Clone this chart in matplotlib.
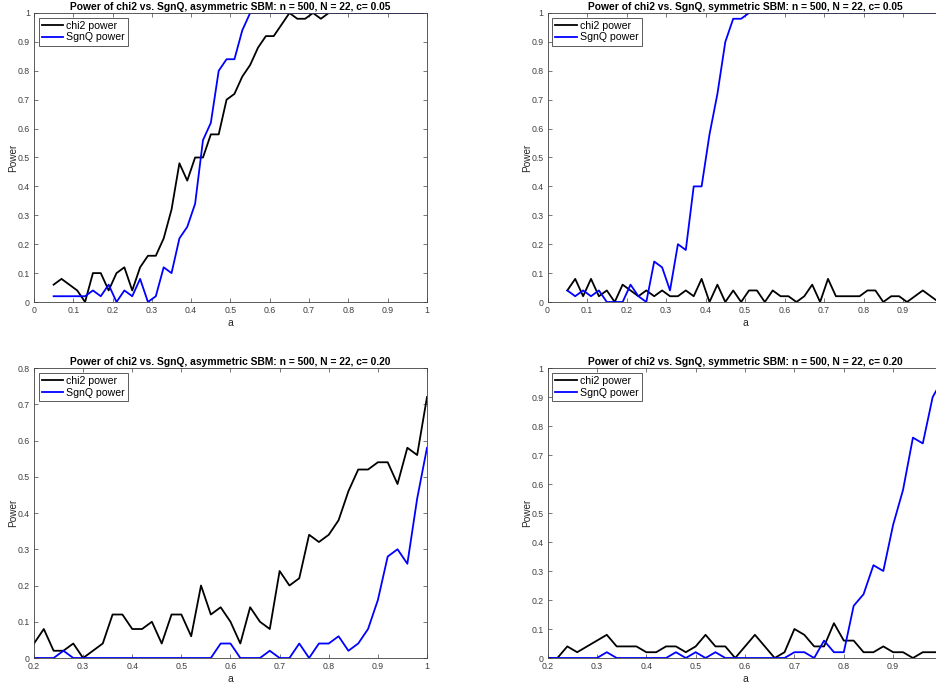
import numpy as np
import matplotlib
matplotlib.use("Agg")
import matplotlib.pyplot as plt

plt.rcParams['font.family'] = ['Liberation Sans', 'DejaVu Sans']

# x grids of the simulations
a_c005 = np.round(np.arange(0.05, 0.991, 0.02), 2)
a_c020 = np.round(np.arange(0.20, 1.001, 0.02), 2)

# asymmetric SBM, c = 0.05
chi2_asym_005 = [0.06, 0.08, 0.06, 0.04, 0.00, 0.10, 0.10, 0.04, 0.10, 0.12,
                 0.04, 0.12, 0.16, 0.16, 0.22, 0.32, 0.48, 0.42, 0.50, 0.50,
                 0.58, 0.58, 0.70, 0.72, 0.78, 0.82, 0.88, 0.92, 0.92, 0.96,
                 1.00, 0.98, 0.98, 1.00, 0.98, 1.00, 1.00, 1.00, 1.00, 1.00,
                 1.00, 1.00, 1.00, 1.00, 1.00, 1.00, 1.00, 1.00]
sgnq_asym_005 = [0.02, 0.02, 0.02, 0.02, 0.02, 0.04, 0.02, 0.06, 0.00, 0.04,
                 0.02, 0.08, 0.00, 0.02, 0.12, 0.10, 0.22, 0.26, 0.34, 0.56,
                 0.62, 0.80, 0.84, 0.84, 0.94, 1.00, 1.00, 1.00, 1.00, 1.00,
                 1.00, 1.00, 1.00, 1.00, 1.00, 1.00, 1.00, 1.00, 1.00, 1.00,
                 1.00, 1.00, 1.00, 1.00, 1.00, 1.00, 1.00, 1.00]

# symmetric SBM, c = 0.05
chi2_sym_005 = [0.04, 0.08, 0.02, 0.08, 0.02, 0.04, 0.00, 0.06, 0.04, 0.02,
                0.04, 0.02, 0.04, 0.02, 0.02, 0.04, 0.02, 0.08, 0.00, 0.06,
                0.00, 0.04, 0.00, 0.04, 0.04, 0.00, 0.04, 0.02, 0.02, 0.00,
                0.02, 0.06, 0.00, 0.08, 0.02, 0.02, 0.02, 0.02, 0.04, 0.04,
                0.00, 0.02, 0.02, 0.00, 0.02, 0.04, 0.02, 0.00]
sgnq_sym_005 = [0.04, 0.02, 0.04, 0.02, 0.04, 0.00, 0.00, 0.00, 0.06, 0.02,
                0.00, 0.14, 0.12, 0.04, 0.20, 0.18, 0.40, 0.40, 0.58, 0.72,
                0.90, 0.98, 0.98, 1.00, 1.00, 1.00, 1.00, 1.00, 1.00, 1.00,
                1.00, 1.00, 1.00, 1.00, 1.00, 1.00, 1.00, 1.00, 1.00, 1.00,
                1.00, 1.00, 1.00, 1.00, 1.00, 1.00, 1.00, 1.00]

# asymmetric SBM, c = 0.20
chi2_asym_020 = [0.04, 0.08, 0.02, 0.02, 0.04, 0.00, 0.02, 0.04, 0.12, 0.12,
                 0.08, 0.08, 0.10, 0.04, 0.12, 0.12, 0.06, 0.20, 0.12, 0.14,
                 0.10, 0.04, 0.14, 0.10, 0.08, 0.24, 0.20, 0.22, 0.34, 0.32,
                 0.34, 0.38, 0.46, 0.52, 0.52, 0.54, 0.54, 0.48, 0.58, 0.56,
                 0.72]
sgnq_asym_020 = [0.00, 0.00, 0.00, 0.02, 0.00, 0.00, 0.00, 0.00, 0.00, 0.00,
                 0.00, 0.00, 0.00, 0.00, 0.00, 0.00, 0.00, 0.00, 0.00, 0.04,
                 0.04, 0.00, 0.00, 0.00, 0.02, 0.00, 0.00, 0.04, 0.00, 0.04,
                 0.04, 0.06, 0.02, 0.04, 0.08, 0.16, 0.28, 0.30, 0.26, 0.44,
                 0.58]

# symmetric SBM, c = 0.20
chi2_sym_020 = [0.00, 0.00, 0.04, 0.02, 0.04, 0.06, 0.08, 0.04, 0.04, 0.04,
                0.02, 0.02, 0.04, 0.04, 0.02, 0.04, 0.08, 0.04, 0.04, 0.00,
                0.04, 0.08, 0.04, 0.00, 0.02, 0.10, 0.08, 0.04, 0.04, 0.12,
                0.06, 0.06, 0.02, 0.02, 0.04, 0.02, 0.02, 0.00, 0.02, 0.02,
                0.02]
sgnq_sym_020 = [0.00, 0.00, 0.00, 0.00, 0.00, 0.00, 0.02, 0.00, 0.00, 0.00,
                0.00, 0.00, 0.00, 0.02, 0.00, 0.02, 0.00, 0.02, 0.00, 0.00,
                0.00, 0.00, 0.00, 0.00, 0.00, 0.02, 0.02, 0.00, 0.06, 0.02,
                0.02, 0.18, 0.22, 0.32, 0.30, 0.46, 0.58, 0.76, 0.74, 0.90,
                0.96]

# (title, x, chi2, sgnq, xlim, ylim, axes rect, right panel cut by the edge)
panels = [
    ("Power of chi2 vs. SgnQ, asymmetric SBM: n = 500, N = 22, c= 0.05",
     a_c005, chi2_asym_005, sgnq_asym_005, (0, 1), (0, 1),
     [0.0363, 0.5604, 0.4199, 0.4207], False),
    ("Power of chi2 vs. SgnQ, symmetric SBM: n = 500, N = 22, c= 0.05",
     a_c005, chi2_sym_005, sgnq_sym_005, (0, 1), (0, 1),
     [0.585, 0.5604, 0.422, 0.4207], True),
    ("Power of chi2 vs. SgnQ, asymmetric SBM: n = 500, N = 22, c= 0.20",
     a_c020, chi2_asym_020, sgnq_asym_020, (0.2, 1), (0, 0.8),
     [0.0363, 0.0422, 0.4199, 0.4221], False),
    ("Power of chi2 vs. SgnQ, symmetric SBM: n = 500, N = 22, c= 0.20",
     a_c020, chi2_sym_020, sgnq_sym_020, (0.2, 1), (0, 1),
     [0.585, 0.0422, 0.422, 0.4221], True),
]


def fmt(v):
    return "%g" % round(v, 2)


fig = plt.figure(figsize=(9.36, 6.87), dpi=100)

for title, x, chi2, sgnq, xl, yl, pos, cut in panels:
    ax = fig.add_axes(pos)
    ax.plot(x, chi2, color='black', lw=1.3, label='chi2 power')
    ax.plot(x, sgnq, color='#0000ff', lw=1.3, label='SgnQ power')
    ax.set_xlim(*xl)
    ax.set_ylim(*yl)
    xt = np.round(np.arange(xl[0], xl[1] + 0.001, 0.1), 2)
    yt = np.round(np.arange(yl[0], yl[1] + 0.001, 0.1), 2)
    xlabels = [fmt(v) for v in xt]
    if cut:
        # the last label falls outside the picture
        xlabels[-1] = ''
    ax.set_xticks(xt)
    ax.set_xticklabels(xlabels)
    ax.set_yticks(yt)
    ax.set_yticklabels([fmt(v) for v in yt])
    ax.tick_params(direction='in', top=True, right=True, length=3,
                   width=0.5, labelsize=6.3, colors='#404040', pad=3)
    for s in ax.spines.values():
        s.set_color('#404040')
        s.set_linewidth(0.6)
    ax.set_title(title, fontsize=7.4, fontweight='bold', pad=2.5)
    ax.set_xlabel('a', fontsize=7.5, color='#262626', labelpad=2)
    ax.set_ylabel('Power', fontsize=7.2, color='#262626', labelpad=-0.5)
    leg = ax.legend(loc='upper left', fontsize=7.6, fancybox=False,
                    framealpha=1, edgecolor='#404040', handlelength=2.0,
                    handletextpad=0.3, borderpad=0.3, labelspacing=0.15,
                    borderaxespad=0.45)
    leg.get_frame().set_linewidth(0.6)

fig.savefig('out.png', dpi=100)
